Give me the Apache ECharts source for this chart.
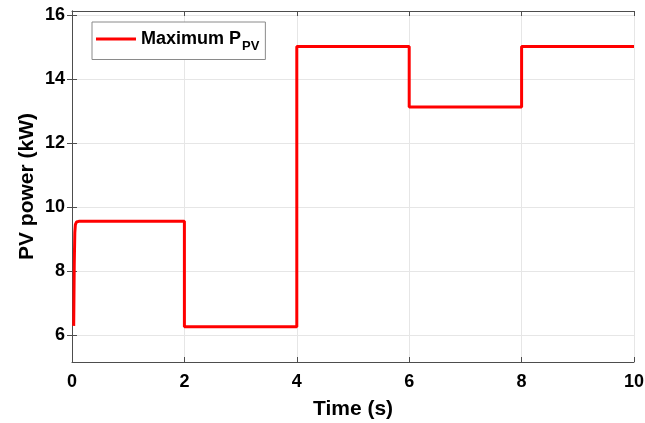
<!DOCTYPE html>
<html>
<head>
<meta charset="utf-8">
<script src="https://cdn.jsdelivr.net/npm/echarts@6/dist/echarts.min.js"></script>
<style>
  html, body { margin: 0; padding: 0; background: #fff; }
  #chart { width: 645px; height: 423px; }
</style>
</head>
<body>
<div id="chart"></div>
<script>
// Time samples (s) and maximum PV power (kW) — step profile of irradiance changes
const timeS = [0.03, 0.04, 0.05, 0.06, 0.08, 0.12, 2.0, 2.0, 2.0, 4.0, 4.0, 6.0, 6.0, 8.0, 8.0, 10.0];
const powerKW = [6.28, 8.2, 9.2, 9.45, 9.53, 9.55, 9.55, 9.6, 6.25, 6.25, 15.02, 15.02, 13.13, 13.13, 15.02, 15.02];
const yTicks = [6, 8, 10, 12, 14, 16];
const xTicks = [0, 2, 4, 6, 8, 10];

const FONT = 'Liberation Sans, Arial, sans-serif';
const AXIS_COLOR = '#4d4d4d';

const chart = echarts.init(document.getElementById('chart'), null, { renderer: 'canvas' });

const pts = timeS.map((t, i) => [t, powerKW[i]]);

const yCommon = {
  type: 'value', min: 5.15, max: 16.13,
  axisLine: { show: true, lineStyle: { color: AXIS_COLOR, width: 1 } },
  axisTick: { show: true, inside: true, length: 5, customValues: yTicks, lineStyle: { color: AXIS_COLOR } },
};
const xCommon = {
  type: 'value', min: xTicks[0], max: xTicks[xTicks.length - 1], interval: 2,
  axisLine: { show: true, onZero: false, lineStyle: { color: AXIS_COLOR, width: 1 } },
  axisTick: { show: true, inside: true, length: 5, lineStyle: { color: AXIS_COLOR } },
};

chart.setOption({
  animation: false,
  backgroundColor: '#fff',
  grid: { left: 72, right: 11, top: 11, bottom: 61, outerBoundsMode: 'none' },
  legend: {
    left: 92, top: 22,
    itemWidth: 40, itemHeight: 3,
    itemGap: 0,
    padding: [8, 6, 7, 4],
    borderColor: '#8a8a8a', borderWidth: 1,
    backgroundColor: '#fff',
    data: [{ name: 'Maximum P', icon: 'rect' }],
    formatter: () => '{m|Maximum P}{s|PV}',
    textStyle: {
      rich: {
        m: { fontFamily: FONT, fontWeight: 'bold', fontSize: 18, color: '#000' },
        s: { fontFamily: FONT, fontWeight: 'bold', fontSize: 13, color: '#000', padding: [14, 0, 0, 1] }
      }
    }
  },
  xAxis: [
    Object.assign({}, xCommon, {
      position: 'bottom',
      name: 'Time (s)', nameLocation: 'middle', nameGap: 37, nameMoveOverlap: false,
      nameTextStyle: { fontFamily: FONT, fontWeight: 'bold', fontSize: 21, color: '#000' },
      axisLabel: { fontFamily: FONT, fontWeight: 'bold', fontSize: 18, color: '#000', margin: 11 },
      splitLine: { show: true, lineStyle: { color: '#e6e6e6', width: 1 } }
    }),
    Object.assign({}, xCommon, {
      position: 'top',
      axisLabel: { show: false },
      splitLine: { show: false }
    })
  ],
  yAxis: [
    Object.assign({}, yCommon, {
      position: 'left',
      name: 'PV power (kW)', nameLocation: 'middle', nameGap: 34, nameMoveOverlap: false,
      nameTextStyle: { fontFamily: FONT, fontWeight: 'bold', fontSize: 21, color: '#000' },
      axisLabel: { customValues: yTicks, fontFamily: FONT, fontWeight: 'bold', fontSize: 18, color: '#000', margin: 7 },
      splitLine: { show: true, lineStyle: { color: '#e6e6e6', width: 1 } }
    }),
    Object.assign({}, yCommon, {
      position: 'right',
      axisLabel: { show: false },
      splitLine: { show: false }
    })
  ],
  series: [{
    name: 'Maximum P',
    type: 'line',
    data: pts,
    showSymbol: false,
    smooth: false,
    color: '#ff0000',
    lineStyle: { color: '#ff0000', width: 3 },
    xAxisIndex: 0, yAxisIndex: 0
  }]
});
</script>
</body>
</html>
